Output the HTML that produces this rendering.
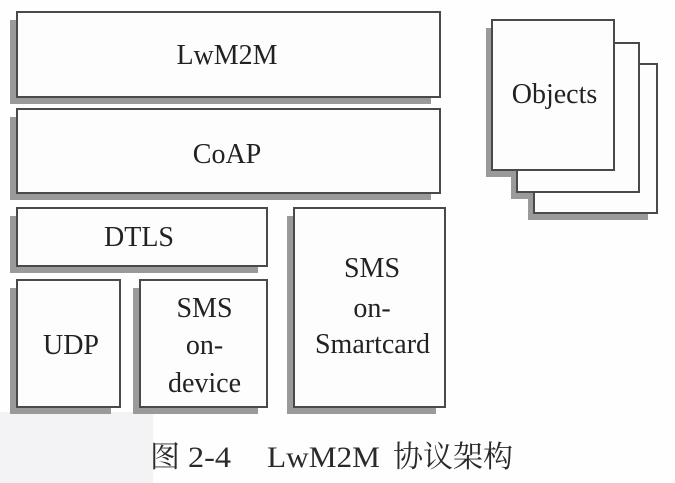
<!DOCTYPE html>
<html>
<head>
<meta charset="utf-8">
<style>
  html, body { margin: 0; padding: 0; background: #fefefe; }
  body { width: 675px; height: 483px; overflow: hidden; position: relative; }
  svg { position: absolute; left: 0; top: 0; }
  .t { font-family: "Liberation Serif", serif; font-size: 28px; fill: #222; }
  .c { font-family: "Liberation Serif", "Noto Serif CJK SC", "Noto Sans CJK SC", serif; font-size: 30px; fill: #2a2a2a; }
</style>
</head>
<body>
<svg width="675" height="483" viewBox="0 0 675 483" xmlns="http://www.w3.org/2000/svg">
  <rect x="0" y="0" width="675" height="483" fill="#fefefe"/>
  <rect x="0" y="412" width="153" height="71" fill="#f3f3f5"/>

  <g fill="#9a9a9a">
    <!-- shadows -->
    <rect x="10" y="20" width="421" height="84"/>
    <rect x="10" y="117" width="421" height="83"/>
    <rect x="10" y="216" width="248" height="57"/>
    <rect x="10" y="288" width="101" height="126"/>
    <rect x="133" y="288" width="125" height="126"/>
    <rect x="287" y="216" width="149" height="198"/>
    <rect x="528" y="72" width="120" height="148"/>
    <rect x="511" y="51" width="120" height="148"/>
    <rect x="486" y="28" width="121" height="149"/>
  </g>

  <g fill="#fdfdfd" stroke="#4a4a4a" stroke-width="2">
    <rect x="17" y="12" width="423" height="85"/>
    <rect x="17" y="109" width="423" height="84"/>
    <rect x="17" y="208" width="250" height="58"/>
    <rect x="17" y="280" width="103" height="127"/>
    <rect x="140" y="280" width="127" height="127"/>
    <rect x="294" y="208" width="151" height="199"/>
    <rect x="534" y="64" width="123" height="149"/>
    <rect x="517" y="43" width="122" height="149"/>
    <rect x="492" y="20" width="122" height="150"/>
  </g>

  <g class="t" text-anchor="middle">
    <text x="227" y="64">LwM2M</text>
    <text x="227" y="163">CoAP</text>
    <text x="139" y="246">DTLS</text>
    <text x="71" y="354">UDP</text>
    <text x="204.5" y="317">SMS</text>
    <text x="204.5" y="354">on-</text>
    <text x="204.5" y="392">device</text>
    <text x="372" y="277">SMS</text>
    <text x="372" y="317">on-</text>
    <text x="372.5" y="353">Smartcard</text>
    <text x="554.5" y="103">Objects</text>
  </g>

  <g class="c">
    <text x="150" y="467">图</text>
    <text x="188" y="467" textLength="43" lengthAdjust="spacingAndGlyphs">2-4</text>
    <text x="267" y="467" textLength="113" lengthAdjust="spacingAndGlyphs">LwM2M</text>
    <text x="393" y="467">协议架构</text>
  </g>
</svg>
</body>
</html>
